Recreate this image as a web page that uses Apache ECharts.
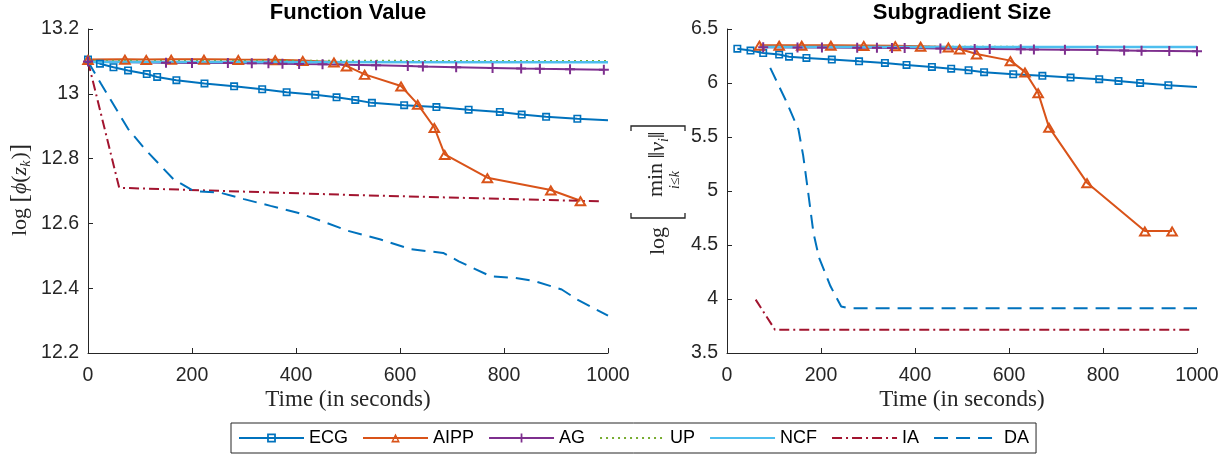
<!DOCTYPE html>
<html>
<head>
<meta charset="utf-8">
<script src="https://cdn.jsdelivr.net/npm/echarts@6/dist/echarts.min.js"></script>
<style>
html,body{margin:0;padding:0;background:#fff;}
#chart{width:1228px;height:457px;}
</style>
</head>
<body>
<div id="chart"></div>
<script>
// ---------- data: Function Value (left) ----------
const ecgFV_x = [0,23,49,77,113,133,170,224,281,335,382,437,478,514,546,608,670,732,792,834,881,941,1000];
const ecgFV_y = [13.106,13.093,13.082,13.072,13.061,13.052,13.042,13.032,13.023,13.014,13.005,12.997,12.989,12.981,12.972,12.965,12.959,12.951,12.944,12.936,12.929,12.923,12.918];
const aippFV_x = [0,71,112,160,223,289,360,413,473,497,532,602,634,666,686,768,890,947];
const aippFV_y = [13.106,13.107,13.106,13.107,13.107,13.106,13.105,13.103,13.098,13.086,13.06,13.024,12.968,12.896,12.813,12.741,12.703,12.67];
const agFV_x = [0,150,200,269,315,347,374,406,451,521,554,615,644,708,778,833,869,927,992];
const agFV_y = [13.1,13.096,13.095,13.095,13.094,13.094,13.093,13.092,13.091,13.089,13.088,13.086,13.084,13.082,13.08,13.078,13.077,13.076,13.074];
const upFV_x = [0,1000];
const upFV_y = [13.103,13.102];
const ncfFV_x = [0,1000];
const ncfFV_y = [13.098,13.097];
const iaFV_x = [0,60,500,985];
const iaFV_y = [13.1,12.71,12.688,12.668];
const daFV_x = [0,25,77,109,164,203,254,300,351,403,448,500,561,622,683,713,774,820,858,911,941,1000];
const daFV_y = [13.1,13.031,12.892,12.83,12.737,12.70,12.695,12.675,12.654,12.633,12.608,12.577,12.551,12.52,12.509,12.483,12.437,12.432,12.422,12.396,12.365,12.315];

// ---------- data: Subgradient Size (right) ----------
const ecgSG_x = [22,50,77,111,132,169,223,281,336,382,436,477,514,547,609,671,731,792,833,879,939,1000];
const ecgSG_y = [6.318,6.30,6.278,6.263,6.244,6.232,6.217,6.201,6.186,6.167,6.149,6.133,6.118,6.10,6.081,6.066,6.05,6.035,6.019,6.001,5.979,5.964];
const aippSG_x = [69,111,159,221,291,358,412,471,495,531,603,634,662,685,766,889,947];
const aippSG_y = [6.35,6.349,6.349,6.349,6.348,6.346,6.34,6.333,6.315,6.269,6.207,6.103,5.909,5.591,5.077,4.63,4.63];
const agSG_x = [77,150,202,277,319,351,378,454,527,559,625,653,719,788,845,882,941,1000];
const agSG_y = [6.33,6.329,6.328,6.327,6.326,6.325,6.324,6.319,6.315,6.314,6.312,6.311,6.308,6.305,6.302,6.299,6.296,6.293];
const upSG_x = [70,1000];
const upSG_y = [6.338,6.336];
const ncfSG_x = [72,1000];
const ncfSG_y = [6.334,6.333];
const iaSG_x = [61,102,992];
const iaSG_y = [3.994,3.716,3.716];
const daSG_x = [92,125,152,162,172,184,196,220,243,258,1000];
const daSG_y = [6.14,5.84,5.57,5.33,5.01,4.61,4.38,4.12,3.93,3.915,3.915];

// ---------- axes / labels ----------
const seriesNames = ['ECG','AIPP','AG','UP','NCF','IA','DA'];
const xRange = [0,1000,200];
const yRangeFV = [12.2,13.2,0.2];
const yRangeSG = [3.5,6.5,0.5];
const titles = ['Function Value','Subgradient Size'];
const xLabel = 'Time (in seconds)';

// ---------- styling ----------
const COLORS = {ECG:'#0072BD',AIPP:'#D95319',AG:'#7E2F8E',UP:'#77AC30',NCF:'#4DBEEE',IA:'#A2142F',DA:'#0072BD'};
const SQ = 'path://M0,0H10V10H0Z M2,2V8H8V2Z';
const TRI = 'path://M0,10L6,0L12,10Z M6,3.5L3.18,8.2L8.82,8.2Z';
const PLUS = 'path://M4,0H6V4H10V6H6V10H4V6H0V4H4Z';
const AX = '#262626';
const SANS = 'Liberation Sans, Arial, sans-serif';
const SERIF = 'Liberation Serif, Times New Roman, serif';

function pts(xs, ys, noLastSymbol){
  return xs.map((x,i)=>{
    if(noLastSymbol && i===xs.length-1) return {value:[x,ys[i]], symbol:'none'};
    return [x,ys[i]];
  });
}

const style = {
  ECG:{symbol:SQ, symbolSize:8, lineStyle:{width:2}},
  AIPP:{symbol:TRI, symbolSize:[13,11], lineStyle:{width:2}},
  AG:{symbol:PLUS, symbolSize:10, lineStyle:{width:2}},
  UP:{symbol:'none', lineStyle:{width:1.5, type:[2,4]}},
  NCF:{symbol:'none', lineStyle:{width:2.5}},
  IA:{symbol:'none', lineStyle:{width:2, type:[10,4,2,4]}},
  DA:{symbol:'none', lineStyle:{width:2, type:[14,8]}}
};

function mk(name, idx, xs, ys, noLast){
  const s = style[name];
  return {
    type:'line', name:name, xAxisIndex:idx, yAxisIndex:idx,
    data: pts(xs, ys, noLast),
    symbol: s.symbol, symbolSize: s.symbolSize || 4,
    showSymbol: s.symbol !== 'none', showAllSymbol:true,
    color: COLORS[name],
    itemStyle:{color:COLORS[name]},
    lineStyle: Object.assign({color:COLORS[name]}, s.lineStyle),
    emphasis:{disabled:true}, silent:true, clip:false
  };
}

function xAxisCfg(idx){
  return {
    type:'value', gridIndex:idx, min:xRange[0], max:xRange[1], interval:xRange[2],
    axisLine:{show:true, lineStyle:{color:AX, width:1}},
    axisTick:{show:true, inside:true, length:5, lineStyle:{color:AX}},
    axisLabel:{color:AX, fontSize:19.5, fontFamily:SANS, margin:13, formatter:(v)=>String(v)},
    splitLine:{show:false}
  };
}
function yAxisCfg(idx, r){
  return {
    type:'value', gridIndex:idx, min:r[0], max:r[1], interval:r[2],
    axisLine:{show:true, lineStyle:{color:AX, width:1}},
    axisTick:{show:true, inside:true, length:5, lineStyle:{color:AX}},
    axisLabel:{color:AX, fontSize:19.5, fontFamily:SANS, margin:9, formatter:(v)=>String(+v.toFixed(2))},
    splitLine:{show:false}
  };
}

const chart = echarts.init(document.getElementById('chart'), null, {renderer:'canvas'});

const bracket = (lx) => ({
  type:'polyline', shape:{points:[[lx+ (lx<0?5:-5),-27],[lx,-27],[lx,27],[lx+(lx<0?5:-5),27]]},
  style:{stroke:AX, lineWidth:1.3, fill:null}
});

const HIDE = {color:'rgba(0,0,0,0)', borderColor:'rgba(0,0,0,0)', borderWidth:0, opacity:0};
const legendData = seriesNames.map(n => (style[n].symbol === 'none' ? {name:n, itemStyle:HIDE} : {name:n}));

const option = {
  animation:false,
  backgroundColor:'#fff',
  grid:[
    {left:88, top:29, width:520, height:324},
    {left:727, top:29, width:470, height:324}
  ],
  xAxis:[xAxisCfg(0), xAxisCfg(1)],
  yAxis:[yAxisCfg(0, yRangeFV), yAxisCfg(1, yRangeSG)],
  legend:{
    data:legendData, left:231, top:423, orient:'horizontal',
    itemWidth:65, itemHeight:11, itemGap:14,
    padding:[6,7], borderColor:AX, borderWidth:1, backgroundColor:'#fff',
    textStyle:{fontSize:18, fontFamily:SANS, color:'#000'},
    selectedMode:false
  },
  series:[
    mk('ECG',0,ecgFV_x,ecgFV_y,true),
    mk('AIPP',0,aippFV_x,aippFV_y,false),
    mk('AG',0,agFV_x,agFV_y,false),
    mk('UP',0,upFV_x,upFV_y,false),
    mk('NCF',0,ncfFV_x,ncfFV_y,false),
    mk('IA',0,iaFV_x,iaFV_y,false),
    mk('DA',0,daFV_x,daFV_y,false),
    mk('ECG',1,ecgSG_x,ecgSG_y,true),
    mk('AIPP',1,aippSG_x,aippSG_y,false),
    mk('AG',1,agSG_x,agSG_y,false),
    mk('UP',1,upSG_x,upSG_y,false),
    mk('NCF',1,ncfSG_x,ncfSG_y,false),
    mk('IA',1,iaSG_x,iaSG_y,false),
    mk('DA',1,daSG_x,daSG_y,false)
  ],
  graphic:[
    {type:'text', x:348, y:13, style:{text:titles[0], fontSize:22, fontWeight:'bold', fontFamily:SANS, fill:'#000', align:'center', verticalAlign:'middle'}},
    {type:'text', x:962, y:13, style:{text:titles[1], fontSize:22, fontWeight:'bold', fontFamily:SANS, fill:'#000', align:'center', verticalAlign:'middle'}},
    {type:'text', x:348, y:400, style:{text:xLabel, fontSize:23, fontFamily:SERIF, fill:AX, align:'center', verticalAlign:'middle'}},
    {type:'text', x:962, y:400, style:{text:xLabel, fontSize:23, fontFamily:SERIF, fill:AX, align:'center', verticalAlign:'middle'}},
    {type:'group', x:20, y:190, rotation:Math.PI/2, children:[
      {type:'text', x:0, y:0, style:{
        text:'{u|log }{b|[}{i|ϕ}{u|(}{i|z}{s|k}{u|)}{b|]}',
        align:'center', verticalAlign:'middle', fill:AX,
        rich:{
          u:{fontSize:22, fontFamily:SERIF, fill:AX, lineHeight:26},
          b:{fontSize:25, fontFamily:SERIF, fill:AX, lineHeight:26},
          i:{fontSize:22, fontFamily:SERIF, fontStyle:'italic', fill:AX, lineHeight:26},
          s:{fontSize:14, fontFamily:SERIF, fontStyle:'italic', fill:AX, lineHeight:26, verticalAlign:'bottom', padding:[0,1,0,0]}
        }
      }}
    ]},
    {type:'group', x:658, y:192, rotation:Math.PI/2, children:[
      {type:'text', x:-49, y:0, style:{text:'log', fontSize:22, fontFamily:SERIF, fill:AX, align:'center', verticalAlign:'middle'}},
      bracket(-26),
      {type:'text', x:12, y:-2, style:{text:'min', fontSize:22, fontFamily:SERIF, fill:AX, align:'center', verticalAlign:'middle'}},
      {type:'text', x:12, y:17, style:{text:'i≤k', fontSize:14, fontFamily:SERIF, fontStyle:'italic', fill:AX, align:'center', verticalAlign:'middle'}},
      {type:'text', x:47, y:0, style:{
        text:'{u|‖}{i|v}{s|i}{u|‖}', align:'center', verticalAlign:'middle', fill:AX,
        rich:{
          u:{fontSize:24, fontFamily:SERIF, fill:AX, lineHeight:26},
          i:{fontSize:22, fontFamily:SERIF, fontStyle:'italic', fill:AX, lineHeight:26},
          s:{fontSize:14, fontFamily:SERIF, fontStyle:'italic', fill:AX, lineHeight:26, verticalAlign:'bottom'}
        }
      }},
      bracket(66)
    ]}
  ]
};
chart.setOption(option);
</script>
</body>
</html>
